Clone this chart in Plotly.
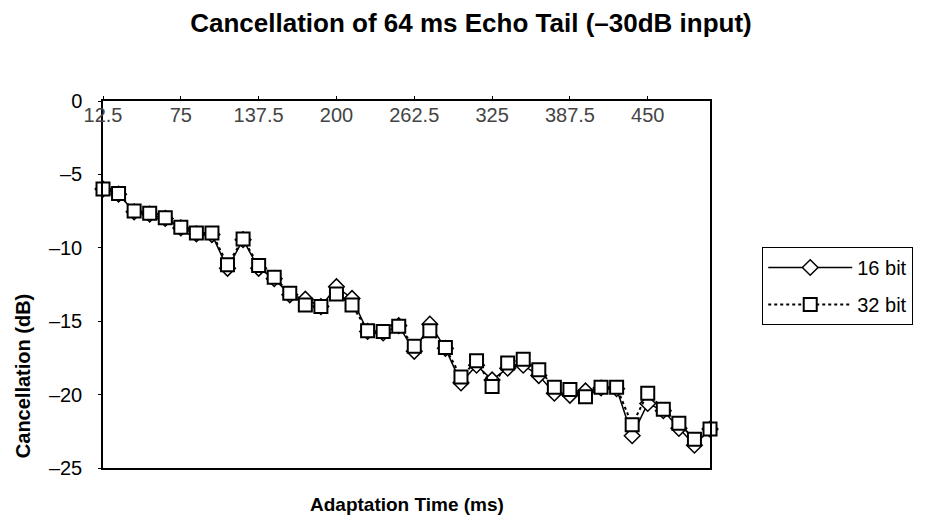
import plotly.graph_objects as go

# Adaptation time categories (ms)
times = [12.5 * (i + 1) for i in range(40)]

bit16 = [-6.0, -6.35, -7.55, -7.7, -8.0, -8.65, -9.05, -9.1, -11.4, -9.45,
         -11.4, -12.1, -13.2, -13.5, -14.0, -12.65, -13.45, -15.7, -15.8, -15.3,
         -17.05, -15.2, -16.85, -19.2, -18.0, -19.0, -18.2, -18.0, -18.7, -19.9,
         -20.05, -19.75, -19.55, -19.6, -22.8, -20.6, -21.1, -22.3, -23.45, -22.35]

bit32 = [-6.0, -6.3, -7.5, -7.65, -7.95, -8.6, -9.0, -9.0, -11.15, -9.4,
         -11.2, -12.0, -13.1, -13.9, -14.0, -13.15, -13.9, -15.65, -15.7, -15.35,
         -16.7, -15.65, -16.8, -18.8, -17.7, -19.45, -17.85, -17.6, -18.3, -19.5,
         -19.65, -20.15, -19.5, -19.5, -22.05, -19.9, -21.0, -21.95, -23.05, -22.35]

x_tickvals = [12.5, 75, 137.5, 200, 262.5, 325, 387.5, 450]
x_ticktext = ["12.5", "75", "137.5", "200", "262.5", "325", "387.5", "450"]
y_tickvals = [-25, -20, -15, -10, -5, 0]
y_ticktext = ["\u201325", "\u201320", "\u201315", "\u201310", "\u20135", "0"]

FONT = "Liberation Sans, Arial, sans-serif"

fig = go.Figure()
fig.add_trace(go.Scatter(
    x=times, y=bit16, name="16 bit", mode="lines+markers", legendgroup="a",
    line=dict(color="black", width=1.5),
    marker=dict(symbol="diamond", size=12, color="white",
                line=dict(color="black", width=1.5)),
    cliponaxis=False,
))
fig.add_trace(go.Scatter(
    x=times, y=bit32, name="32 bit", mode="lines+markers", legendgroup="b",
    line=dict(color="black", width=2, dash="dot"),
    marker=dict(symbol="square", size=13, color="white",
                line=dict(color="black", width=2)),
    cliponaxis=False,
))

fig.update_layout(
    width=925, height=521, autosize=False,
    margin=dict(l=103, r=206, t=101, b=53),
    paper_bgcolor="white", plot_bgcolor="white",
    font=dict(family=FONT, size=20, color="black"),
    title=dict(text="<b>Cancellation of 64 ms Echo Tail (\u201330dB input)</b>",
               x=471 / 925, xanchor="center", y=1 - 23 / 521, yanchor="middle",
               font=dict(size=26)),
    xaxis=dict(type="linear", range=[12.5, 500], side="top", automargin=False,
               tickmode="array", tickvals=x_tickvals, ticktext=x_ticktext,
               ticks="outside", ticklen=3, tickwidth=1, tickcolor="black",
               ticklabelposition="inside", ticklabeloverflow="allow",
               ticklabelstandoff=8,
               showline=True, linecolor="black", linewidth=1.5, mirror=True,
               showgrid=False, zeroline=False, tickfont=dict(size=20)),
    yaxis=dict(range=[-25, 0], tickmode="array", tickvals=y_tickvals,
               ticktext=y_ticktext, ticks="outside", ticklen=3, tickwidth=1,
               tickcolor="black", ticklabelstandoff=12, automargin=False,
               showline=True, linecolor="black", linewidth=1.5, mirror=True,
               showgrid=False, zeroline=False, tickfont=dict(size=20)),
    xaxis2=dict(overlaying="x", anchor="y", side="top", range=[12.5, 500],
                tickmode="array", tickvals=x_tickvals, ticks="inside",
                ticklen=3, tickcolor="black", showticklabels=False,
                showline=False, showgrid=False, zeroline=False),
    yaxis2=dict(overlaying="y", anchor="x", side="left", range=[-25, 0],
                tickmode="array", tickvals=y_tickvals, ticks="inside",
                ticklen=3, tickcolor="black", showticklabels=False,
                showline=False, showgrid=False, zeroline=False),
    legend=dict(x=(772 - 103) / 616, xanchor="left", y=(468 - 247) / 367,
                yanchor="top", bordercolor="black", borderwidth=1,
                bgcolor="white", font=dict(size=20), itemwidth=84,
                tracegroupgap=8),
    annotations=[
        dict(text="<b>Adaptation Time (ms)</b>", xref="paper", yref="paper",
             x=0.5, y=(468 - 504) / 367, xanchor="center", yanchor="middle",
             showarrow=False, font=dict(size=19)),
        dict(text="<b>Cancellation (dB)</b>", xref="paper", yref="paper",
             x=(22 - 103) / 616, y=(468 - 376) / 367, xanchor="center",
             yanchor="middle", textangle=-90, showarrow=False,
             font=dict(size=20)),
    ],
)

fig.write_html("out.html", config={"displayModeBar": False},
               post_script="document.body.style.margin='0';document.body.style.padding='0';")
